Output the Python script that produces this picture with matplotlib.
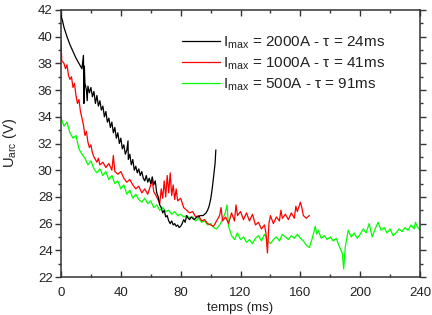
import matplotlib
matplotlib.use("Agg")
import matplotlib.pyplot as plt
from matplotlib.ticker import MultipleLocator

plt.rcParams['font.family'] = ['Liberation Sans', 'DejaVu Sans']
plt.rcParams['mathtext.fontset'] = 'custom'
plt.rcParams['mathtext.rm'] = 'Liberation Sans'
plt.rcParams['mathtext.it'] = 'Liberation Sans:italic'

# ---- data ----
t_black = [0, 1, 2, 4, 6, 8, 10, 12, 13, 14, 15, 15.3, 15.6, 16, 17, 17.5, 18, 19, 20, 21,
           22, 23, 24, 25, 26, 27, 28, 29, 30, 31, 32, 33, 34, 35, 36, 37, 38, 39, 40, 41,
           42, 43, 44, 44.8, 45, 46, 47, 48, 49, 50, 51, 52, 53, 54, 55, 56, 57, 58, 59, 60,
           61, 62, 63, 64, 65, 66, 67, 68, 69, 70, 71, 72, 73, 74, 75, 76, 77, 78, 79, 80,
           81, 82, 83, 84, 85, 86, 87, 88, 89, 90, 91, 92, 93, 94, 95, 96, 97, 98, 99, 100,
           100.7, 101.5, 102.3, 103, 103.5]
v_black = [41.6, 41.2, 40.7, 40.0, 39.4, 38.9, 38.4, 38.0, 37.8, 37.6, 38.6, 35.0, 37.8, 36.5, 36.0, 35.2, 36.3, 35.8, 36.2, 35.5,
           35.9, 35.0, 35.6, 34.8, 35.2, 34.5, 34.8, 34.0, 34.4, 33.6, 33.9, 33.2, 33.6, 32.8, 33.2, 32.4, 32.8, 32.0, 32.4, 31.6,
           31.9, 31.2, 31.5, 32.2, 30.8, 31.2, 30.4, 30.8, 30.0, 30.3, 29.8, 30.1, 29.6, 29.9, 29.4, 29.2, 29.6, 29.1, 29.4, 29.0,
           29.5, 28.9, 29.2, 28.3, 28.0, 27.4, 27.2, 26.8, 27.0, 26.5, 26.6, 26.2, 26.0, 26.2, 25.9, 26.0, 25.8, 25.9, 25.7, 25.8,
           26.0, 26.3, 26.1, 26.6, 26.4, 26.3, 26.5, 26.4, 26.3, 26.4, 26.5, 26.5, 26.6, 26.6, 26.6, 26.7, 26.8, 27.0, 27.3, 27.8,
           28.3, 29.0, 29.8, 30.5, 31.5]

t_red = [0, 0.5, 2, 3, 4, 5, 6, 7, 8, 9, 10, 11, 12, 13, 14, 15, 16, 17, 18, 19,
         20, 21, 22, 24, 25, 26, 28, 30, 32, 34, 35, 36, 38, 40, 42, 44, 46, 48, 50, 52,
         54, 56, 58, 60, 61, 62, 64, 66, 67, 68, 69, 70, 71, 72, 73, 74, 75, 76, 77, 78,
         80, 82, 84, 86, 88, 90, 92, 94, 96, 98, 100, 102, 104, 106, 107, 108, 110, 112, 114, 116,
         117, 118, 120, 122, 124, 126, 128, 130, 132, 134, 136, 137, 138, 139, 140, 142, 144, 146, 147, 148,
         150, 152, 154, 156, 157, 158, 160, 161, 162, 164, 166]
v_red = [39.7, 38.2, 38.0, 37.6, 37.9, 37.1, 36.8, 37.0, 36.2, 36.5, 35.6, 35.0, 35.3, 34.4, 33.9, 33.4, 32.6, 32.9, 32.1, 31.7,
         31.9, 31.3, 31.0, 30.6, 30.9, 30.4, 30.6, 30.2, 30.5, 30.0, 31.1, 29.9, 29.7, 29.9, 29.4, 29.1, 29.3, 28.9, 28.6, 28.8,
         28.3, 28.6, 28.2, 28.9, 29.2, 28.4, 28.0, 27.5, 28.6, 27.9, 29.2, 28.0, 29.6, 28.3, 29.8, 28.1, 28.9, 27.8, 28.6, 27.7,
         27.9, 27.2, 27.0, 26.8, 26.9, 26.5, 26.6, 26.2, 26.3, 26.0, 25.9, 25.8, 26.2, 26.6, 27.2, 26.2, 26.5, 26.0, 26.8, 26.2,
         27.4, 26.6, 26.9, 26.3, 26.8, 26.2, 26.7, 25.9, 26.1, 25.6, 25.9, 25.3, 23.8, 26.0, 26.6, 26.0, 26.5, 26.2, 27.0, 26.4,
         26.7, 26.3, 26.8, 26.4, 27.3, 26.9, 27.6, 27.2, 26.6, 26.4, 26.6]

t_green = [0, 2, 4, 6, 8, 10, 12, 14, 16, 18, 20, 22, 24, 26, 28, 30, 32, 34, 36, 38,
           40, 42, 44, 46, 48, 50, 52, 54, 56, 58, 60, 62, 64, 66, 68, 70, 72, 74, 76, 78,
           80, 82, 84, 86, 88, 90, 92, 94, 96, 98, 100, 102, 104, 106, 108, 110, 111, 112, 114, 116,
           118, 120, 122, 124, 126, 128, 130, 132, 134, 136, 138, 140, 142, 144, 146, 148, 150, 152, 154, 156,
           158, 160, 162, 164, 166, 168, 170, 171, 172, 174, 176, 178, 180, 182, 184, 186, 188, 189, 190, 192,
           194, 196, 198, 200, 202, 204, 206, 208, 210, 212, 214, 216, 218, 220, 222, 224, 226, 228, 230, 232,
           234, 236, 237, 238, 240]
v_green = [33.9, 33.3, 33.6, 32.8, 32.4, 32.6, 31.6, 31.2, 30.9, 30.4, 30.7, 30.1, 29.8, 30.1, 29.6, 29.9, 29.3, 29.6, 29.0, 29.2,
           28.6, 28.9, 28.2, 28.5, 27.9, 28.2, 27.8, 27.6, 27.9, 27.5, 27.7, 27.2, 27.4, 27.0, 27.2, 26.9, 27.0, 26.7, 26.9, 26.6,
           26.7, 26.5, 26.6, 26.4, 26.5, 26.2, 26.4, 26.1, 26.2, 25.9, 26.0, 25.7, 25.6, 25.9, 26.3, 26.9, 27.4, 25.8, 25.1, 24.8,
           25.3, 24.8, 25.0, 24.6, 24.8, 24.5, 24.9, 25.1, 24.7, 25.2, 24.8, 24.5, 24.8, 25.0, 24.7, 25.2, 25.0, 24.8, 25.1, 24.9,
           25.2, 24.9, 24.7, 24.4, 24.2, 24.9, 25.8, 25.2, 25.5, 24.9, 25.1, 24.8, 25.0, 24.7, 24.9, 24.3, 23.8, 22.6, 24.2, 25.5,
           25.0, 25.3, 24.9, 25.2, 25.6, 25.3, 26.0, 25.0, 25.6, 26.1, 25.5, 25.7, 25.3, 25.6, 25.1, 25.3, 25.6, 25.4, 25.7, 25.5,
           25.9, 25.6, 26.1, 25.8, 25.5]

labels = [r'I$_{\mathrm{max}}$ = 2000A - τ = 24ms',
          r'I$_{\mathrm{max}}$ = 1000A - τ = 41ms',
          r'I$_{\mathrm{max}}$ = 500A - τ = 91ms']
colors = ['#000000', '#ff0000', '#00ff00']

fig = plt.figure(figsize=(4.32, 3.15), dpi=100)
ax = fig.add_axes([61/432, 1 - 277/315, (420-61)/432, (277-10)/315])

ax.plot(t_black, v_black, color=colors[0], lw=0.9, label=labels[0], zorder=3)
ax.plot(t_red, v_red, color=colors[1], lw=0.9, label=labels[1], zorder=2)
ax.plot(t_green, v_green, color=colors[2], lw=0.9, label=labels[2], zorder=1)

ax.set_xlim(0, 240)
ax.set_ylim(22, 42)
ax.xaxis.set_major_locator(MultipleLocator(40))
ax.xaxis.set_minor_locator(MultipleLocator(20))
ax.yaxis.set_major_locator(MultipleLocator(2))
ax.yaxis.set_minor_locator(MultipleLocator(1))

tc = '#333333'
for s in ax.spines.values():
    s.set_color(tc)
    s.set_linewidth(1.1)
ax.tick_params(which='both', top=True, right=True, colors=tc, labelsize=9.5, width=1.0)
ax.tick_params(axis='x', which='both', direction='in')
ax.tick_params(axis='y', which='both', direction='out')
ax.tick_params(axis='y', which='both', right=True, labelright=False)
ax.tick_params(which='major', length=4)
ax.tick_params(which='minor', length=2.5)
ax.tick_params(axis='both', labelcolor='#222222')
ax.tick_params(axis='x', pad=7)
ax.tick_params(axis='y', pad=2)

ax.set_xlabel('temps (ms)', fontsize=9.5, color='#222222')
ax.xaxis.set_label_coords(0.5, -0.093)
ax.set_ylabel(r'U$_{\mathrm{arc}}$ (V)', fontsize=10.5, color='#222222')
ax.yaxis.set_label_coords(-0.117, 0.5)

leg = ax.legend(loc='upper left', bbox_to_anchor=(0.32, 0.93), frameon=False,
                fontsize=11, handlelength=2.5, handletextpad=0.2, labelspacing=0.28,
                borderaxespad=0)
for txt in leg.get_texts():
    txt.set_color('#222222')

fig.savefig('out.png', dpi=100)
